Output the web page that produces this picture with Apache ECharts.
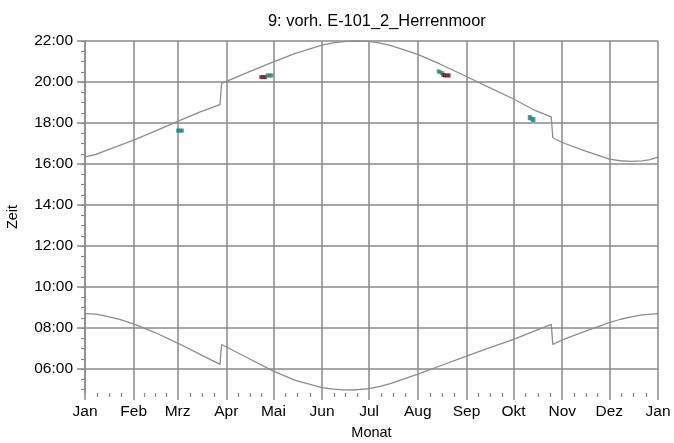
<!DOCTYPE html>
<html>
<head>
<meta charset="utf-8">
<script src="https://cdn.jsdelivr.net/npm/echarts@6/dist/echarts.min.js"></script>
<style>
  html, body { margin: 0; padding: 0; background: #fff; }
  #chart { width: 674px; height: 443px; }
</style>
</head>
<body>
<div id="chart"></div>
<script>
// Day-of-year positions (0 = 1 Jan, 365 = 1 Jan of next year) and month labels
const monthStarts = [0, 31, 59, 90, 120, 151, 181, 212, 243, 273, 304, 334, 365];
const monthNames = ['Jan', 'Feb', 'Mrz', 'Apr', 'Mai', 'Jun', 'Jul', 'Aug', 'Sep', 'Okt', 'Nov', 'Dez', 'Jan'];

// Hour ticks on the time axis
const hourLabels = [6, 8, 10, 12, 14, 16, 18, 20, 22];

// Sunset (upper curve), [day, hour]
const sunset = [
  [0, 16.35], [7, 16.47], [14, 16.68], [31, 17.17], [45, 17.62], [59, 18.08], [73, 18.53],
  [86, 18.90], [87, 19.93], [104, 20.48], [120, 20.98], [134, 21.40], [151, 21.80],
  [158, 21.91], [165, 21.97], [171, 22.00], [181, 21.98], [188, 21.90], [195, 21.78],
  [212, 21.35], [226, 20.88], [243, 20.27], [257, 19.75], [273, 19.17], [287, 18.60],
  [297, 18.30], [298, 17.28], [304, 17.05], [318, 16.65], [334, 16.24], [341, 16.16],
  [348, 16.13], [355, 16.15], [360, 16.22], [365, 16.34]
];

// Sunrise (lower curve), [day, hour]
const sunrise = [
  [0, 8.70], [7, 8.68], [14, 8.57], [22, 8.42], [31, 8.20], [45, 7.77], [59, 7.27], [73, 6.73],
  [86, 6.23], [87, 7.20], [104, 6.53], [120, 5.90], [134, 5.45], [151, 5.10],
  [158, 5.02], [165, 4.99], [171, 4.98], [181, 5.05], [188, 5.16], [195, 5.30], [212, 5.75],
  [226, 6.15], [243, 6.63], [257, 7.02], [273, 7.45], [287, 7.88], [297, 8.18], [298, 7.20],
  [304, 7.42], [318, 7.83], [334, 8.27], [341, 8.43], [348, 8.55], [355, 8.64], [365, 8.70]
];

// Shadow periods, [day, hour]
const shadowTealMarch = [[59, 17.63], [60, 17.63], [61, 17.63], [62, 17.63]];
const shadowRedApril = [[112, 20.24], [113, 20.24], [114, 20.24], [115, 20.24]];
const shadowGreenApril = [[116, 20.32], [117, 20.32], [118, 20.32], [119, 20.32]];
const shadowGreenAugust = [[225, 20.52], [226, 20.49], [227, 20.45], [228, 20.42]];
const shadowRedAugust = [[228, 20.34], [229, 20.32], [230, 20.32], [231, 20.32], [232, 20.32]];
const shadowTealOctober = [[283, 18.27], [284, 18.24], [285, 18.17], [286, 18.17]];

const FONT = "'Liberation Sans', Arial, sans-serif";
const GRID_COLOR = '#8a8a8a';

const halfHours = [];
for (let h = 5; h <= 22; h += 0.5) halfHours.push(h);
const quarterMonths = [];
for (let i = 0; i < monthStarts.length - 1; i++) {
  const a = monthStarts[i], b = monthStarts[i + 1];
  for (let q = 1; q < 4; q++) quarterMonths.push(a + (b - a) * q / 4);
}

const fmtHour = v => String(Math.round(v)).padStart(2, '0') + ':00';
const fmtMonth = v => {
  const i = monthStarts.findIndex(m => Math.abs(m - v) < 0.01);
  return i >= 0 ? monthNames[i] : '';
};

const shadowSeries = (data, color, size) => ({
  type: 'scatter', data, symbol: 'rect', symbolSize: size,
  itemStyle: { color }, xAxisIndex: 0, yAxisIndex: 0, silent: true, z: 5
});

const chart = echarts.init(document.getElementById('chart'), null, { renderer: 'canvas' });
chart.setOption({
  animation: false,
  backgroundColor: '#ffffff',
  textStyle: { fontFamily: FONT },
  title: {
    text: '9: vorh. E-101_2_Herrenmoor',
    left: 263, top: 8,
    textStyle: { fontFamily: FONT, fontSize: 16.4, fontWeight: 'normal', color: '#000' }
  },
  grid: { left: 85, right: 16, top: 41, bottom: 50, containLabel: false, outerBoundsMode: 'none' },
  xAxis: [
    {
      type: 'value', min: 0, max: 365,
      name: 'Monat', nameLocation: 'middle', nameGap: 32,
      nameTextStyle: { fontFamily: FONT, fontSize: 14.5, color: '#000' },
      axisLine: { show: false },
      axisTick: { show: true, customValues: monthStarts, length: 7, lineStyle: { color: GRID_COLOR, width: 1.5 } },
      axisLabel: { customValues: monthStarts, formatter: fmtMonth, margin: 11, fontFamily: FONT, fontSize: 15.5, color: '#000' },
      splitLine: { show: true, lineStyle: { color: GRID_COLOR, width: 1.5 } }
    },
    {
      type: 'value', min: 0, max: 365, position: 'bottom',
      axisLine: { show: false },
      axisTick: { show: true, customValues: quarterMonths, length: 4, lineStyle: { color: GRID_COLOR, width: 1.2 } },
      axisLabel: { show: false },
      splitLine: { show: false }
    }
  ],
  yAxis: [
    {
      type: 'value', min: 4 + 50 / 60, max: 22,
      name: 'Zeit', nameLocation: 'middle', nameGap: 65, nameRotate: 90,
      nameTextStyle: { fontFamily: FONT, fontSize: 14.5, color: '#000' },
      axisLine: { show: true, lineStyle: { color: GRID_COLOR, width: 1.5 } },
      axisTick: { show: true, customValues: hourLabels, length: 8, lineStyle: { color: GRID_COLOR, width: 1.5 } },
      axisLabel: { customValues: hourLabels, formatter: fmtHour, margin: 12, fontFamily: FONT, fontSize: 15.5, color: '#000' },
      splitLine: { show: true, lineStyle: { color: GRID_COLOR, width: 1.5 } }
    },
    {
      type: 'value', min: 4 + 50 / 60, max: 22, position: 'left',
      axisLine: { show: false },
      axisTick: { show: true, customValues: halfHours, length: 4, lineStyle: { color: GRID_COLOR, width: 1.2 } },
      axisLabel: { show: false },
      splitLine: { show: false }
    }
  ],
  series: [
    {
      type: 'line', data: sunset, showSymbol: false, silent: true,
      lineStyle: { color: '#8c8c8c', width: 1.3 }, z: 3
    },
    {
      type: 'line', data: sunrise, showSymbol: false, silent: true,
      lineStyle: { color: '#8c8c8c', width: 1.3 }, z: 3
    },
    shadowSeries(shadowTealMarch, '#168a8a', [3, 4]),
    shadowSeries(shadowRedApril, '#7a1f2f', [3, 4]),
    shadowSeries(shadowGreenApril, '#2f8a6a', [3, 4]),
    shadowSeries(shadowGreenAugust, '#2f8a6a', [3, 4]),
    shadowSeries(shadowRedAugust, '#7a1f2f', [3, 4]),
    shadowSeries(shadowTealOctober, '#168a8a', [3, 5])
  ]
});
</script>
</body>
</html>
